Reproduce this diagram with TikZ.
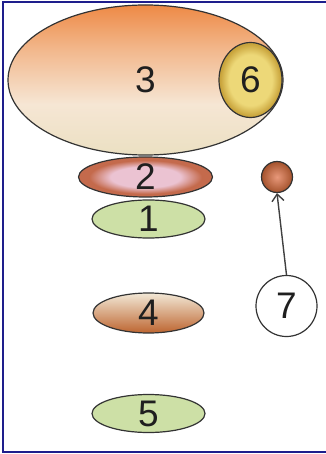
\documentclass[tikz,border=0pt]{standalone}
\usepackage{fontspec}
\setmainfont{Liberation Sans}
\usetikzlibrary{shapes.geometric, arrows.meta, positioning}

\definecolor{edge}{HTML}{333333}
\definecolor{frameblue}{HTML}{1E1E8C}
\definecolor{peachtop}{HTML}{EE8A46}
\definecolor{peachmid}{HTML}{F6E6D4}
\definecolor{peachbot}{HTML}{EBE0C2}
\definecolor{goldin}{HTML}{EDD878}
\definecolor{goldout}{HTML}{C9A43C}
\definecolor{rosein}{HTML}{EBC3D2}
\definecolor{roseout}{HTML}{C46A4C}
\definecolor{leaf}{HTML}{CDE0A6}
\definecolor{creamtop}{HTML}{F2E8D6}
\definecolor{rustbot}{HTML}{BD6530}
\definecolor{beadin}{HTML}{E8987A}
\definecolor{beadout}{HTML}{A4522C}

\pgfdeclareverticalshading{eggshade}{100bp}{color(0bp)=(peachbot); color(25bp)=(peachbot); color(42bp)=(peachmid); color(60bp)=(peachtop!50!peachmid); color(75bp)=(peachtop); color(100bp)=(peachtop)}
\pgfdeclareradialshading{ringshade}{\pgfpoint{0bp}{0bp}}{color(0bp)=(rosein); color(13bp)=(rosein); color(21bp)=(roseout); color(25bp)=(roseout); color(50bp)=(roseout)}
\pgfdeclareradialshading{discshade}{\pgfpoint{0bp}{0bp}}{color(0bp)=(goldin); color(17bp)=(goldin); color(24bp)=(goldout); color(25bp)=(goldout); color(50bp)=(goldout)}

\begin{document}
\begin{tikzpicture}[x=1pt, y=1pt, >={Straight Barb[length=7pt,width=12pt]}, font=\fontsize{37pt}{37pt}\selectfont]
    \tikzstyle{blob}=[draw=edge, line width=1.2pt, ellipse, inner sep=0pt, text=black!88, text depth=-10pt]
    \tikzstyle{leafy}=[blob, fill=leaf, minimum width=113pt, minimum height=38pt]

    \useasboundingbox (0,0) rectangle (325,-454);
    \draw[frameblue, line width=1.2pt] (3,-2) rectangle (340,-452);

    \node[blob, minimum width=275pt, minimum height=150pt, shading=eggshade] (three) at (145.5,-80) {3};
    \node[blob, right of=three, node distance=105pt, minimum width=63pt, minimum height=75pt, shading=discshade] (six) {6};
    \node[blob, below of=three, node distance=97pt, minimum width=134pt, minimum height=40pt, shading=ringshade] (two) {2};
    \node[leafy, below of=two, node distance=42pt, xshift=3pt, text depth=0pt] (one) {1};
    \node[blob, below of=one, node distance=94pt, minimum width=111pt, minimum height=40pt, top color=creamtop, bottom color=rustbot, text depth=0pt] (four) {4};
    \node[leafy, below of=four, node distance=100.5pt, text depth=-7pt] (five) {5};

    \node[circle, draw=edge, line width=1.2pt, inner sep=0pt, minimum size=31pt, inner color=beadin, outer color=beadout, right of=two, node distance=131.5pt] (bead) {};
    \node[blob, circle, fill=white, minimum size=61pt, right of=four, node distance=138pt, yshift=7pt, text depth=-12pt] (seven) {7};

    \draw[->, draw=black!75, line width=1.4pt] (seven.north) -- (bead.south);
  \end{tikzpicture}
\end{document}
